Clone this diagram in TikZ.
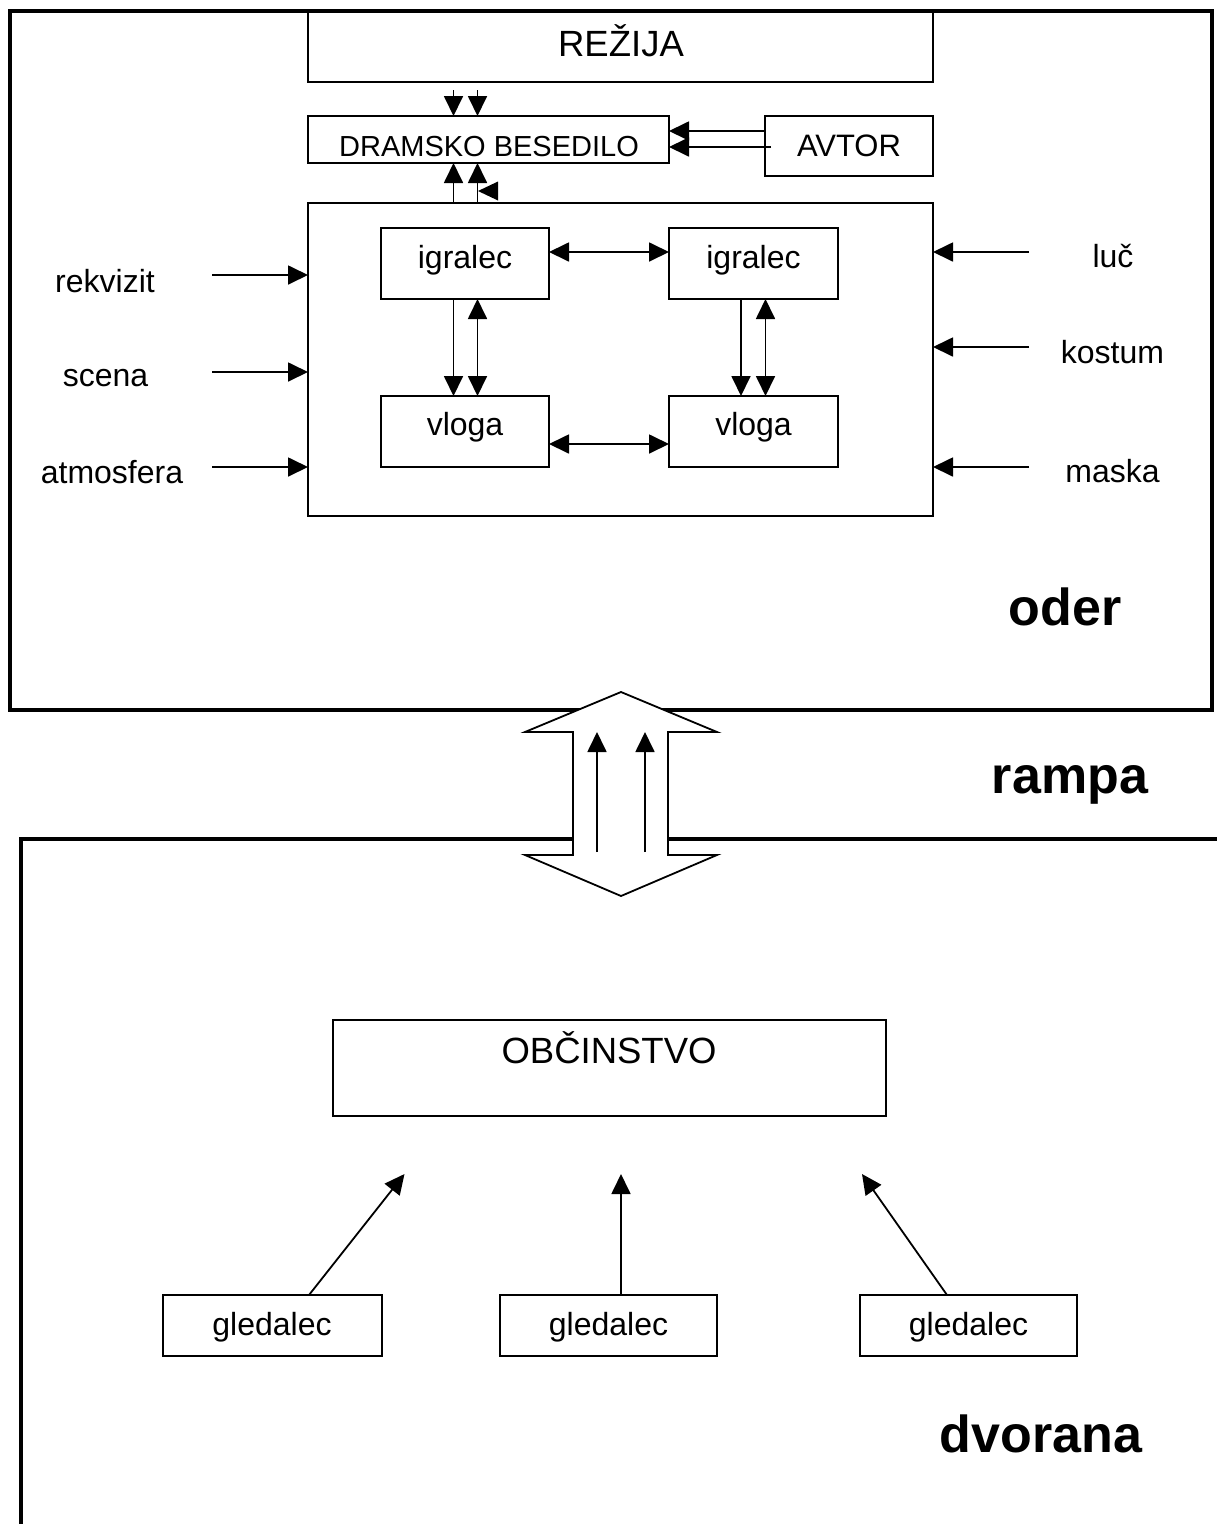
\documentclass[tikz,border=0pt]{standalone}
\usepackage{fontspec}
\setmainfont{Liberation Sans}
\usetikzlibrary{arrows.meta}
\tikzset{
  box/.style={draw, line width=2pt, inner sep=0pt, outer sep=0pt},
  frame/.style={line width=4pt, line join=miter},
  arr/.style={line width=1.8pt, -{Triangle[length=20pt,width=19pt]}},
  darr/.style={line width=1.8pt, {Triangle[length=20pt,width=19pt]}-{Triangle[length=20pt,width=19pt]}},
  txt/.style={anchor=base, inner sep=0pt, font=\fontsize{32}{38}\selectfont},
  big/.style={anchor=base, inner sep=0pt, font=\fontsize{36.5}{44}\selectfont},
  head/.style={anchor=base, inner sep=0pt, font=\fontsize{52}{62}\selectfont\bfseries}
}
\begin{document}
\begin{tikzpicture}[x=1pt, y=-1pt]
\useasboundingbox (0,0) rectangle (1216,1524);

% stage and hall frames
\draw[frame] (9.5,11) rectangle (1212,710);
\draw[frame] (1230,839) -- (20.5,839) -- (20.5,1540);

% boxes on the stage
\node[box, minimum width=625pt, minimum height=71pt] (rez) at (620.5,46.5) {};
\node[box, minimum width=361pt, minimum height=47pt] (db) at (488.5,139.5) {};
\node[box, minimum width=168pt, minimum height=60pt] (avt) at (849,146) {};
\node[box, minimum width=625pt, minimum height=313pt] (stage) at (620.5,359.5) {};
\node[box, minimum width=168pt, minimum height=71pt] (ig1) at (465,263.5) {};
\node[box, minimum width=169pt, minimum height=71pt] (ig2) at (753.5,263.5) {};
\node[box, minimum width=168pt, minimum height=71pt] (vl1) at (465,431.5) {};
\node[box, minimum width=169pt, minimum height=71pt] (vl2) at (753.5,431.5) {};

% boxes in the hall
\node[box, minimum width=553pt, minimum height=96pt] (obc) at (609.5,1068) {};
\node[box, minimum width=218.5pt, minimum height=61pt] (gl1) at (272.25,1325.5) {};
\node[box, minimum width=217pt, minimum height=61pt] (gl2) at (608.5,1325.5) {};
\node[box, minimum width=217pt, minimum height=61pt] (gl3) at (968.5,1325.5) {};

% texts
\node[big] (trez) at (621,56.7) {REŽIJA};
\node[anchor=base, inner sep=0pt, font=\fontsize{29}{35}\selectfont] (tdb) at (489,156.7) {DRAMSKO BESEDILO};
\node[anchor=base, inner sep=0pt, font=\fontsize{31}{37}\selectfont] (tavt) at (849,156.7) {AVTOR};
\node[txt] (tig1) at (465,268) {igralec};
\node[txt] (tig2) at (753.5,268) {igralec};
\node[txt] (tvl1) at (465,435) {vloga};
\node[txt] (tvl2) at (753.5,435) {vloga};
\node[txt] (trek) at (105,292) {rekvizit};
\node[txt] (tsce) at (105.5,386.7) {scena};
\node[txt] (tatm) at (112,483) {atmosfera};
\node[txt] (tluc) at (1113,267) {luč};
\node[txt] (tkos) at (1112.5,363) {kostum};
\node[txt] (tmas) at (1112.5,482.7) {maska};
\node[head] (toder) at (1065,625) {oder};
\node[head] (tramp) at (1070,793) {rampa};
\node[big] (tobc) at (609,1063) {OBČINSTVO};
\node[txt] (tgl1) at (272,1335) {gledalec};
\node[txt] (tgl2) at (608.5,1335) {gledalec};
\node[txt] (tgl3) at (968.5,1335) {gledalec};
\node[head] (tdvo) at (1041,1452) {dvorana};

% direction and author to the text
\draw[arr] ([xshift=-35pt,yshift=26pt]db.north) -- ([xshift=-35pt]db.north);
\draw[arr] ([xshift=-11pt,yshift=26pt]db.north) -- ([xshift=-11pt]db.north);
\draw[arr] ([yshift=15pt]avt.west) -- ([yshift=15pt]avt.west -| db.east);
\draw[arr] ([xshift=6pt,yshift=-1pt]avt.west) -- ([yshift=-1pt]avt.west -| db.east);

% stage to the text
\draw[arr] ([xshift=-35pt]db.south |- stage.north) -- ([xshift=-35pt]db.south);
\draw[arr] ([xshift=-11pt]db.south |- stage.north) -- ([xshift=-11pt]db.south);
\fill (478,191) -- (498,181.5) -- (498,200.5) -- cycle;

% actors and roles
\draw[darr] ([yshift=11.5pt]ig1.east) -- ([yshift=11.5pt]ig2.west);
\draw[darr] ([yshift=-12.5pt]vl1.east) -- ([yshift=-12.5pt]vl2.west);
\draw[arr] ([xshift=-11.5pt]ig1.south) -- ([xshift=-11.5pt]vl1.north);
\draw[darr] ([xshift=12.5pt]ig1.south) -- ([xshift=12.5pt]vl1.north);
\draw[arr] ([xshift=-12.5pt]ig2.south) -- ([xshift=-12.5pt]vl2.north);
\draw[darr] ([xshift=12pt]ig2.south) -- ([xshift=12pt]vl2.north);

% stage means
\coordinate (rekS) at (212,275);
\coordinate (sceS) at (212,372);
\coordinate (atmS) at (212,467);
\coordinate (lucS) at (1029,252);
\coordinate (kosS) at (1029,347);
\coordinate (masS) at (1029,467);
\foreach \c in {rekS,sceS,atmS} \draw[arr] (\c) -- (\c -| stage.west);
\foreach \c in {lucS,kosS,masS} \draw[arr] (\c) -- (\c -| stage.east);

% the ramp
\draw[line width=1.8pt, fill=white, line join=miter]
  (621,692) -- (717,732) -- (668,732) -- (668,855) -- (717,855) -- (621,896)
  -- (525,855) -- (573,855) -- (573,732) -- (525,732) -- cycle;
\coordinate (r1s) at (597,852);
\coordinate (r1e) at (597,732);
\coordinate (r2s) at (645,852);
\coordinate (r2e) at (645,732);
\draw[arr] (r1s) -- (r1e);
\draw[arr] (r2s) -- (r2e);

% spectators to the audience
\coordinate (g1e) at (404.5,1174);
\coordinate (g2e) at (621,1174);
\coordinate (g3e) at (862,1174);
\draw[arr] ([xshift=36.75pt]gl1.north) -- (g1e);
\draw[arr] ([xshift=12.5pt]gl2.north) -- (g2e);
\draw[arr] ([xshift=-21.5pt]gl3.north) -- (g3e);
\end{tikzpicture}
\end{document}
